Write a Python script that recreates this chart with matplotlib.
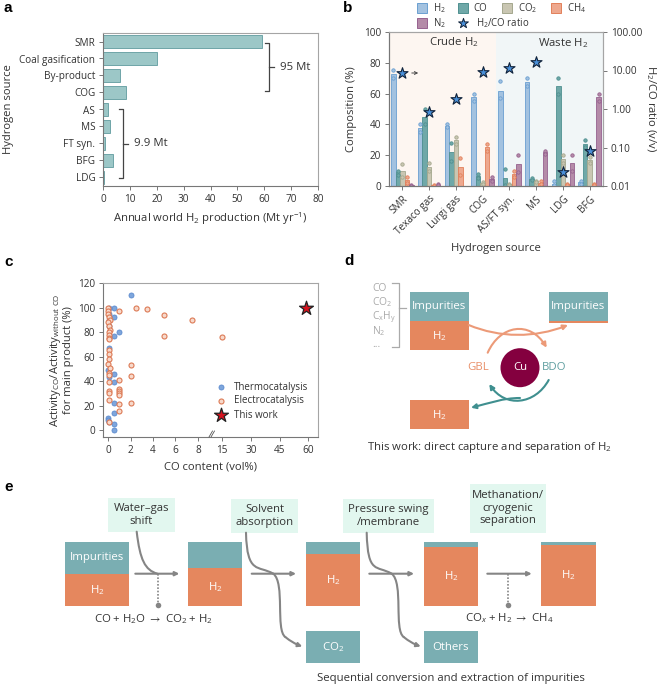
import matplotlib
matplotlib.use("Agg")
import matplotlib.pyplot as plt
import matplotlib.transforms as mtrans
import numpy as np
from matplotlib.patches import Circle, FancyArrowPatch, Rectangle
from matplotlib.path import Path as MPath

plt.rcParams["font.family"] = ["Open Sans", "DejaVu Sans"]
plt.rcParams["font.size"] = 7.2
plt.rcParams["mathtext.fontset"] = "custom"
plt.rcParams["mathtext.rm"] = "Open Sans"
plt.rcParams["mathtext.it"] = "Open Sans:italic"
plt.rcParams["mathtext.default"] = "regular"
plt.rcParams["axes.linewidth"] = 0.8

W, H = 658, 685
INK = "#333333"
SPINE = "#777777"
TEAL = "#7aaeb2"
ORANGE = "#e5875e"
GREEN = "#e2f7ef"
GREY = "#858585"
LABEL_FS = 8.1
DIAGRAM_FS = 8.2

# panel a
sources_a = ["SMR", "Coal gasification", "By-product", "COG", "AS", "MS", "FT syn.", "BFG", "LDG"]
production = [59, 20, 6.3, 8.7, 2, 2.7, 0.9, 3.6, 0.2]

# panel b
NA = float("nan")
sources_b = ["SMR", "Texaco gas", "Lurgi gas", "COG", "AS/FT syn.", "MS", "LDG", "BFG"]
h2 = [72.5, 37.5, 39, 57.5, 62, 67.5, 1.5, 2.5]
co = [9, 45, 22, 6.5, 5.5, 4.5, 65, 27.5]
co2 = [10, 12.5, 30, 2, 1, 3, 17.5, 17]
ch4 = [4, 0.5, 12.5, 25, 8, 2, 1, 1]
n2 = [0.5, 0.8, 0, 4.5, 14.5, 22, 15, 57.5]
h2_hi = [75, 40, 40, 60, 68, 70, 3, 3]
h2_lo = [70, 35, 38, 55, 57, 65, 0.5, 1.5]
co_hi = [10, 50, 28, 8, 11, 5, 70, 30]
co_lo = [7, 40, 16, 5, 0.5, 4, 60, 25]
co2_hi = [14, 15, 32, 2.5, 1.2, 3.5, 20, 19]
co2_lo = [6, 10, 27, 1, 0.5, 2.5, 15, 15]
ch4_hi = [6, 0.5, 18, 27, 10, 3, 1, 1]
ch4_lo = [2, 0.3, 7, 23, 6, 1, 0.8, 0.8]
n2_hi = [0.5, 1, NA, 6, 20, 23, 20, 60]
n2_lo = [0.3, 0.5, NA, 3, 9, 21, 10, 55]
ratio = [8.5, 0.83, 1.8, 8.9, 11.7, 16.8, 0.0236, 0.082]
ratio_ticks = [0.01, 0.1, 1, 10, 100]
ratio_labels = ["0.01", "0.10", "1.00", "10.00", "100.00"]

# panel c
thermo_x = [2, 0.5, 0.05, 0.5, 0.1, 0.1, 0.1, 1, 0.5, 0.1, 0, 0.1, 0.5, 0.5, 0.5, 0.5, 0, 0, 0.1, 0.5, 0.5]
thermo_y = [110, 100, 100, 92, 95, 90, 85, 80, 77, 67, 49, 43, 46, 39, 22, 14, 10, 8, 7, 5, 0]
electro_x = [1, 2.5, 3.5, 5, 7.5, 5, 15, 2, 2, 2, 1, 1, 1, 1, 1, 1, 1,
             0, 0, 0, 0.1, 0.15, 0, 0.1, 0.2, 0.05, 0.1, 0.1, 0.1, 0.1, 0.1, 0.1, 0, 0.2, 0.1, 0.1, 0.1, 0.1, 0.1, 0.1, 0.1]
electro_y = [97.5, 100, 99, 94, 90, 77, 76, 53, 44, 22, 41, 34, 32, 30, 28.5, 21, 16,
             100, 97, 95, 92, 90, 88, 85, 82, 80, 78, 75, 74, 65, 62, 58, 54, 51, 47, 45, 39, 32, 30, 25, 7]
this_x = [59]
this_y = [100]
co_ticks = [0, 2, 4, 6, 8, 15, 30, 45, 60]
co_nodes = [-1, 0, 8, 15, 60, 70]
co_pos = [-11.3, 0, 89.7, 113.7, 200, 219.2]


def px_axes(fig, left, top, right, bottom):
    return fig.add_axes([left / W, 1 - bottom / H, (right - left) / W, (bottom - top) / H])


def style_spines(ax):
    for side in ["top", "right"]:
        ax.spines[side].set_color("#a5a5a5")
    for side in ["left", "bottom"]:
        ax.spines[side].set_color(SPINE)
    ax.tick_params(length=3, width=0.7, color=SPINE, labelcolor=INK, pad=2.5)


def bar_panel(fig):
    ax = px_axes(fig, 103, 33, 318, 186)
    y = np.arange(len(sources_a))
    ax.barh(y, production, height=0.82, color="#9cc7c7", edgecolor="#6fa5a8", linewidth=0.7)
    ax.set_yticks(y, sources_a)
    ax.set_ylim(len(sources_a) - 0.5, -0.5)
    ax.set_xlim(0, 80)
    ax.set_xticks(np.arange(0, 81, 10))
    ax.set_xlabel("Annual world H$_2$ production (Mt yr$^{-1}$)", labelpad=4, color=INK, fontsize=LABEL_FS)
    ax.set_ylabel("Hydrogen source", labelpad=4, color=INK, fontsize=LABEL_FS)
    style_spines(ax)


def composition_panel(fig):
    ax = px_axes(fig, 389, 32, 603, 186)
    ax.axvspan(0, 4, color="#fdf6f1", lw=0)
    ax.axvspan(4, 8, color="#f1f6f7", lw=0)
    series = [
        (h2, h2_hi, h2_lo, "#a3c2e0", "#6a9fd1"),
        (co, co_hi, co_lo, "#6fa8a8", "#4f9090"),
        (co2, co2_hi, co2_lo, "#c9c6b2", "#a5a88e"),
        (ch4, ch4_hi, ch4_lo, "#eea88e", "#e2805a"),
        (n2, n2_hi, n2_lo, "#b48ba8", "#96618f"),
    ]
    x = np.arange(8) + 0.5
    w = 0.168
    for i, (vals, hi, lo, fc, ec) in enumerate(series):
        xs = x + (i - 2) * w
        ax.bar(xs, vals, width=w, color=fc, edgecolor=ec, linewidth=0.6, zorder=2)
        ax.scatter(xs, hi, s=6, facecolor=fc, edgecolor=ec, linewidth=0.6, zorder=3)
        ax.scatter(xs, lo, s=6, facecolor=fc, edgecolor=ec, linewidth=0.6, zorder=3)
    ax.set_xlim(0, 8)
    ax.set_ylim(0, 100)
    ax.set_yticks(np.arange(0, 101, 20))
    ax.set_xticks(x, sources_b, rotation=45, ha="right", rotation_mode="anchor")
    shift = mtrans.ScaledTranslation(3 / 100, 0, fig.dpi_scale_trans)
    for lab in ax.get_xticklabels():
        lab.set_transform(lab.get_transform() + shift)
    ax.set_xlabel("Hydrogen source", labelpad=4, color=INK, fontsize=LABEL_FS)
    ax.set_ylabel("Composition (%)", labelpad=5, color=INK, fontsize=LABEL_FS)
    style_spines(ax)

    ax2 = ax.twinx()
    ax2.set_yscale("log")
    ax2.set_ylim(0.01, 100)
    ax2.set_yticks(ratio_ticks, ratio_labels)
    ax2.minorticks_off()
    ax2.scatter(x, ratio, marker="*", s=70, facecolor="#4a90d9", edgecolor="#10223a", linewidth=0.8, zorder=5)
    ax2.set_ylabel("H$_2$/CO ratio (v/v)", rotation=270, labelpad=11, color=INK, fontsize=LABEL_FS)
    style_spines(ax2)
    ax2.set_xlim(0, 8)


def forward_co(v):
    return np.interp(v, co_nodes, co_pos)


def inverse_co(v):
    return np.interp(v, co_pos, co_nodes)


def scatter_panel(fig):
    ax = px_axes(fig, 103, 283, 318, 437)
    ax.set_xscale("function", functions=(forward_co, inverse_co))
    ax.scatter(thermo_x, thermo_y, s=13, facecolor="#7ea6dc", edgecolor="#5c8bcf", linewidth=0.6, zorder=2)
    ax.scatter(electro_x, electro_y, s=13, facecolor="#f7d9cb", edgecolor="#dd7a55", linewidth=0.8, zorder=3)
    ax.scatter(this_x, this_y, marker="*", s=110, facecolor="#d5121e", edgecolor="#222222", linewidth=0.9, zorder=4)
    ax.set_xlim(-0.45, 65)
    ax.set_ylim(-5.5, 120)
    ax.set_xticks(co_ticks, [str(t) for t in co_ticks])
    ax.minorticks_off()
    ax.set_yticks(np.arange(0, 121, 20))
    ax.set_xlabel("CO content (vol%)", labelpad=4, color=INK, fontsize=LABEL_FS)
    ax.set_ylabel("Activity$_{CO}$/Activity$_{without\\ CO}$\nfor main product (%)", labelpad=3, color=INK,
                  fontsize=LABEL_FS, linespacing=1.0)
    style_spines(ax)


def block(ov, x0, y0, x1, y1, color, label=None, fs=DIAGRAM_FS, tc="white"):
    ov.add_patch(Rectangle((x0, y0), x1 - x0, y1 - y0, facecolor=color, edgecolor="none"))
    if label:
        ov.text((x0 + x1) / 2, (y0 + y1) / 2, label, ha="center", va="center", color=tc, fontsize=fs)


def curve(ov, pts, color, lw=1.5, head=True, ms=7):
    codes = [MPath.MOVETO] + [MPath.CURVE4] * (len(pts) - 1)
    style = "-|>" if head else "-"
    ov.add_patch(FancyArrowPatch(path=MPath(pts, codes), arrowstyle=style, mutation_scale=ms,
                                 color=color, linewidth=lw, shrinkA=0, shrinkB=0))


def overlay(fig):
    ov = fig.add_axes([0, 0, 1, 1], zorder=10)
    ov.set_xlim(0, W)
    ov.set_ylim(H, 0)
    ov.axis("off")

    for label, x, y in [("a", 3, 8), ("b", 343, 8), ("c", 4, 262), ("d", 344, 261), ("e", 4, 487)]:
        ov.text(x, y, label, fontsize=11, fontweight="bold", color="black", va="center", family="Liberation Sans")

    # a brackets
    for x0, x1, x2, y0, y1, label, tx in [(265, 269, 274, 43, 91, "95 Mt", 280), (119, 123, 128, 109, 178, "9.9 Mt", 134)]:
        ym = (y0 + y1) / 2
        ov.plot([x0, x1, x1, x0], [y0, y0, y1, y1], color="#444444", lw=0.9)
        ov.plot([x1, x2], [ym, ym], color="#444444", lw=0.9)
        ov.text(tx, ym, label, va="center", color=INK, fontsize=8.2)

    # b legend and notes
    legend_rows = [
        (417, 8, "#a3c2e0", "#6a9fd1", "H$_2$", 433),
        (458, 8, "#6fa8a8", "#4f9090", "CO", 473),
        (502, 8, "#c9c6b2", "#a5a88e", "CO$_2$", 518),
        (551, 8, "#eea88e", "#e2805a", "CH$_4$", 567),
        (417, 23, "#b48ba8", "#96618f", "N$_2$", 433),
    ]
    for x, y, fc, ec, label, tx in legend_rows:
        ov.add_patch(Rectangle((x, y - 5), 10, 10, facecolor=fc, edgecolor=ec, linewidth=0.7))
        ov.text(tx, y, label, va="center", color=INK, fontsize=6.9)
    ov.scatter([463], [23], marker="*", s=55, facecolor="#4a90d9", edgecolor="#10223a", linewidth=0.7)
    ov.text(476, 23, "H$_2$/CO ratio", va="center", color=INK, fontsize=6.9)
    ov.text(454, 42, "Crude H$_2$", ha="center", va="center", color=INK, fontsize=8.2)
    ov.text(563, 43, "Waste H$_2$", ha="center", va="center", color=INK, fontsize=8.2)
    ov.annotate("", xy=(421, 73), xytext=(409, 73), arrowprops=dict(arrowstyle="->", color="#444444", lw=0.7, mutation_scale=5))

    # c legend
    ov.scatter([220.7], [387], s=13, facecolor="#7ea6dc", edgecolor="#5c8bcf", linewidth=0.6)
    ov.scatter([220.7], [400.5], s=13, facecolor="#f7d9cb", edgecolor="#dd7a55", linewidth=0.8)
    ov.scatter([220.7], [414.5], marker="*", s=110, facecolor="#d5121e", edgecolor="#222222", linewidth=0.9)
    for y, label in [(387, "Thermocatalysis"), (400.5, "Electrocatalysis"), (415, "This work")]:
        ov.text(234, y, label, va="center", color=INK, fontsize=7.0)
    ov.plot([211, 214.5], [437, 431], color="#555555", lw=0.6)
    ov.plot([209, 212.5], [437, 431], color="#555555", lw=0.6)

    # d
    for y, label in zip([288, 302, 317, 331], ["CO", "CO$_2$", "C$_x$H$_y$", "N$_2$"]):
        ov.text(372, y, label, color="#a9a9a9", va="center", fontsize=7.4)
    ov.text(372, 347, "...", color="#a9a9a9", va="baseline", fontsize=7.4)
    ov.plot([392, 399, 399, 392], [283, 283, 347, 347], color="#aaaaaa", lw=0.9)
    ov.plot([399, 406], [308, 308], color="#aaaaaa", lw=0.9)
    block(ov, 409.7, 291.7, 468.7, 321, TEAL, "Impurities")
    block(ov, 409.7, 321, 468.7, 350.3, ORANGE, "H$_2$")
    block(ov, 549, 291.7, 608, 321, TEAL, "Impurities")
    block(ov, 549, 321, 608, 322.7, ORANGE)
    block(ov, 409.7, 400, 468.7, 429.3, ORANGE, "H$_2$")
    ov.add_patch(Circle((520, 367.7), 19.5, facecolor="#84003f", edgecolor="none"))
    ov.text(520, 367.7, "Cu", ha="center", va="center", color="white", fontsize=DIAGRAM_FS)
    ov.text(478, 367.7, "GBL", ha="center", va="center", color="#e98f68", fontsize=DIAGRAM_FS)
    ov.text(554.5, 367.7, "BDO", ha="center", va="center", color="#5f9ea0", fontsize=DIAGRAM_FS)
    curve(ov, [(468.7, 325), (500, 338), (535, 338), (568, 325)], "#ec9a78")
    curve(ov, [(487.7, 352.7), (500, 325), (530, 320), (546.7, 347.7)], "#ec9a78")
    curve(ov, [(548.7, 380), (535, 405), (505, 408), (489.3, 384)], "#3f8f8f")
    curve(ov, [(520, 398), (503, 398), (490, 403), (471, 407.7)], "#3f8f8f")
    ov.text(490, 447, "This work: direct capture and separation of H$_2$", ha="center", va="center", color=INK, fontsize=DIAGRAM_FS)

    # e
    stacks = [(65, 129.3, 573.7, "Impurities"), (188, 242.3, 567.7, None), (305.7, 360, 554.3, None),
              (423.7, 478, 547.3, None), (541.3, 596, 544.7, None)]
    for x0, x1, split, label in stacks:
        block(ov, x0, 542, x1, split, TEAL, label)
        block(ov, x0, split, x1, 605.7, ORANGE, "H$_2$")
    block(ov, 305.7, 631, 360, 663.3, TEAL, "CO$_2$")
    block(ov, 423.7, 631, 478, 663.3, TEAL, "Others")
    block(ov, 107.7, 497.7, 175, 531.7, GREEN, "Water\u2013gas\nshift", tc=INK)
    block(ov, 231, 498.7, 298, 532.7, GREEN, "Solvent\nabsorption", tc=INK)
    block(ov, 342.7, 499.3, 434, 532.7, GREEN, "Pressure swing\n/membrane", tc=INK)
    block(ov, 470, 484, 546, 532.7, GREEN, "Methanation/\ncryogenic\nseparation", tc=INK)
    for x0, x1 in [(135.3, 179.3), (251.7, 296), (369.3, 414), (487.3, 531.7)]:
        curve(ov, [(x0, 573.7), (x0 + 15, 573.7), (x1 - 15, 573.7), (x1, 573.7)], GREY, ms=6)
    curve(ov, [(136.7, 531.7), (140, 560), (145, 570), (157.3, 573.7)], GREY, head=False)
    for x0, xm in [(246, 273.3), (366.7, 391.7)]:
        curve(ov, [(x0, 532.7), (x0 + 1, 575), (xm - 15, 565), (xm, 573.7)], GREY, head=False)
        curve(ov, [(xm, 573.7), (xm + 12, 583), (xm + 2, 630), (xm + 12, 637)], GREY, head=False)
        curve(ov, [(xm + 12, 637), (xm + 17, 641), (xm + 22, 644), (xm + 29, 646.5)], GREY, ms=6)
    for x in [157.7, 508]:
        ov.plot([x, x], [573.7, 604], color=GREY, lw=1.2, ls=(0, (1, 1)))
        ov.scatter([x], [605.3], s=16, color=GREY, linewidth=0)
    ov.text(154, 619, "CO + H$_2$O $\\rightarrow$ CO$_2$ + H$_2$", ha="center", va="center", color=INK, fontsize=DIAGRAM_FS)
    ov.text(509, 618, "CO$_{\\mathit{x}}$ + H$_2$ $\\rightarrow$ CH$_4$", ha="center", va="center", color=INK, fontsize=DIAGRAM_FS)
    ov.text(450.5, 679, "Sequential conversion and extraction of impurities", ha="center", va="center", color=INK, fontsize=DIAGRAM_FS)


def main():
    fig = plt.figure(figsize=(W / 100, H / 100), dpi=100)
    bar_panel(fig)
    composition_panel(fig)
    scatter_panel(fig)
    overlay(fig)
    fig.savefig("out.png", dpi=100)
    plt.close(fig)


if __name__ == "__main__":
    main()
